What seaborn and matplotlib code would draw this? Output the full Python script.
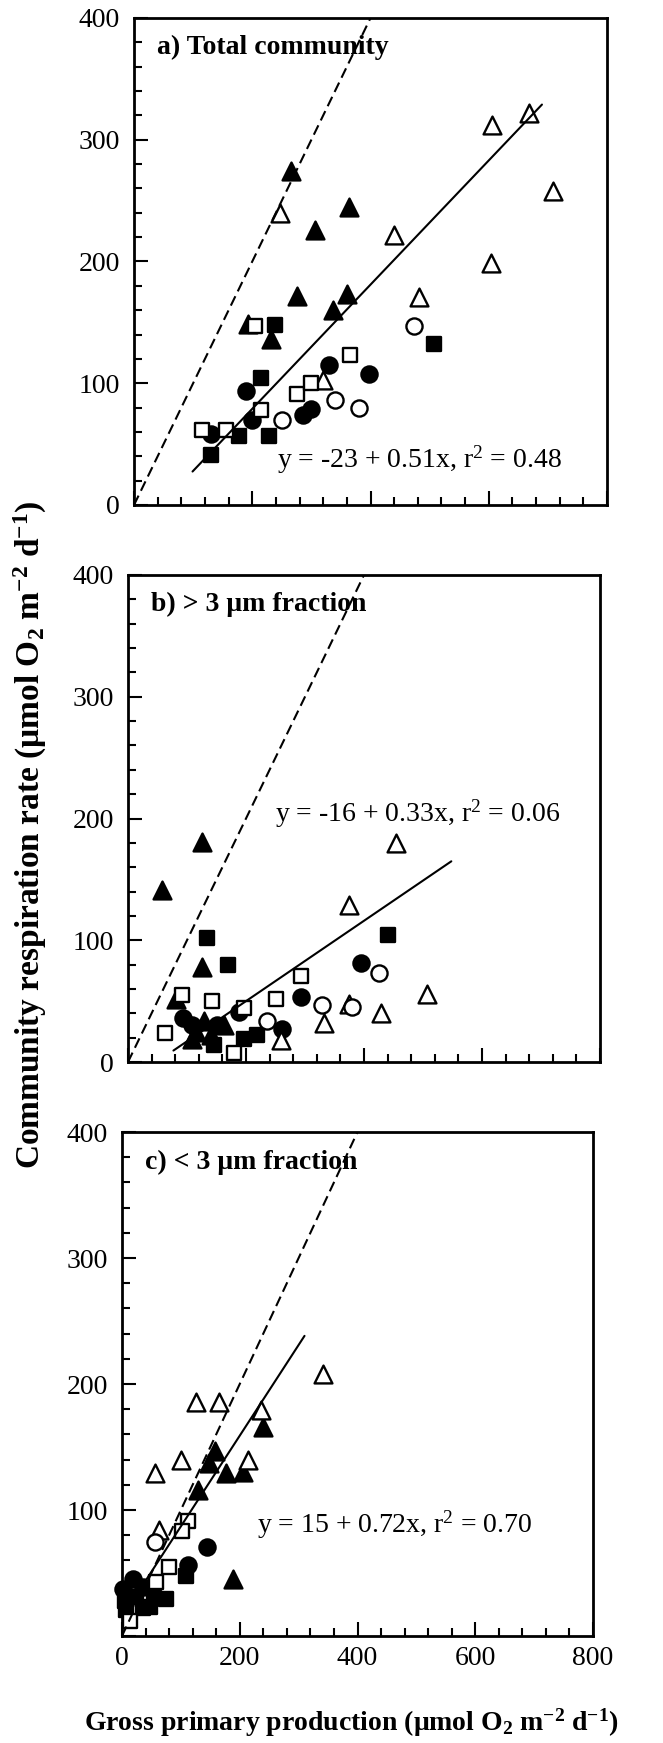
import matplotlib
matplotlib.use("Agg")
import matplotlib.pyplot as plt
from matplotlib.ticker import MultipleLocator, FixedLocator
import numpy as np
import pandas as pd
import seaborn as sns

# ---------------- data ----------------
# panel a) Total community
a_gpp = [265, 363, 306, 275, 360, 336, 192, 231,
         606, 668, 709, 247, 440, 604, 482, 320,
         130, 190, 199, 285, 300, 330, 397,
         250, 340, 381, 474,
         130, 177, 228, 214, 238, 508,
         115, 155, 214, 205, 275, 300, 366]
a_resp = [274, 245, 226, 172, 173, 160, 149, 136,
          312, 322, 258, 240, 222, 199, 171, 103,
          58, 94, 70, 74, 79, 115, 108,
          70, 86, 80, 147,
          41, 57, 57, 104, 148, 132,
          62, 62, 78, 147, 91, 100, 123]
a_sym = (["tri_f"] * 8 + ["tri_o"] * 8 + ["cir_f"] * 7 + ["cir_o"] * 4
         + ["sq_f"] * 6 + ["sq_o"] * 7)

# panel b) > 3 um fraction
b_gpp = [57, 125, 125, 82, 128, 162, 108, 115, 140,
         455, 375, 506, 375, 429, 332, 259,
         395, 293, 261, 188, 94, 108, 150,
         426, 328, 236, 380,
         134, 170, 440, 145, 196, 219,
         62, 91, 142, 196, 250, 293, 179]
b_resp = [141, 181, 78, 52, 34, 30, 19, 25, 22,
          180, 129, 56, 48, 40, 32, 18,
          81, 53, 27, 41, 36, 30, 30,
          73, 47, 34, 45,
          102, 80, 104, 14, 19, 22,
          24, 55, 50, 44, 52, 71, 7]
b_sym = (["tri_f"] * 9 + ["tri_o"] * 7 + ["cir_f"] * 7 + ["cir_o"] * 4
         + ["sq_f"] * 6 + ["sq_o"] * 7)

# panel c) < 3 um fraction
c_gpp = [240, 158, 147, 177, 206, 129, 188,
         342, 125, 164, 236, 214, 100, 56, 62,
         145, 112, 19, 2, 36, 10,
         56,
         108, 75, 47, 7, 24, 55, 35, 5,
         112, 102, 80, 58, 13]
c_resp = [166, 147, 137, 129, 130, 116, 45,
          208, 186, 186, 179, 140, 140, 129, 84,
          71, 56, 45, 37, 39, 30,
          75,
          48, 29, 23, 21, 31, 30, 22, 28,
          91, 83, 55, 43, 12]
c_sym = (["tri_f"] * 7 + ["tri_o"] * 8 + ["cir_f"] * 6 + ["cir_o"] * 1
         + ["sq_f"] * 8 + ["sq_o"] * 5)

# regression fits: intercept, slope, r2, x-range of the drawn line
intercepts = [-23, -16, 15]
slopes = [0.51, 0.33, 0.72]
r2_values = ["0.48", "0.06", "0.70"]
fit_ranges = [(99, 690), (77, 548), (40, 310)]
panel_titles = ["a) Total community", "b) > 3 \u03bcm fraction", "c) < 3 \u03bcm fraction"]

x_ticks = [0, 200, 400, 600, 800]
y_ticks = [0, 100, 200, 300, 400]

# ---------------- style ----------------
sns.set_theme(style="white")
plt.rcParams["font.family"] = ["Liberation Serif", "DejaVu Serif"]
plt.rcParams["mathtext.fontset"] = "custom"
plt.rcParams["mathtext.rm"] = "Liberation Serif"
plt.rcParams["mathtext.it"] = "Liberation Serif:italic"
plt.rcParams["mathtext.bf"] = "Liberation Serif:bold"
for k in ["text.color", "axes.labelcolor", "xtick.color", "ytick.color", "axes.edgecolor"]:
    plt.rcParams[k] = "black"

W, H = 663, 1743
fig = plt.figure(figsize=(W / 100, H / 100), dpi=100)
fig.patch.set_facecolor("white")

# axes boxes in pixels: left, right, top, bottom
boxes = [(134, 607, 18, 505), (128, 600, 575, 1062), (122, 593, 1132, 1636)]

marker_style = {
    "tri_f": ("^", "black"), "tri_o": ("^", "white"),
    "cir_f": ("o", "black"), "cir_o": ("o", "white"),
    "sq_f": ("s", "black"), "sq_o": ("s", "white"),
}
order = ["tri_f", "cir_f", "sq_f", "tri_o", "cir_o", "sq_o"]
sizes = {"^": 165, "o": 135, "s": 115}

panels = [(a_gpp, a_resp, a_sym), (b_gpp, b_resp, b_sym), (c_gpp, c_resp, c_sym)]

for i, ((gx, ry, sym), (l, r, t, b)) in enumerate(zip(panels, boxes)):
    ax = fig.add_axes([l / W, 1 - b / H, (r - l) / W, (b - t) / H])
    ax.set_facecolor("white")
    df = pd.DataFrame({"gpp": gx, "resp": ry, "sym": sym})

    # 1:1 line
    one = pd.DataFrame({"x": [0, 400], "y": [0, 400]})
    ax.plot(one["x"], one["y"], color="black", lw=1.5, dashes=(5, 2.6), zorder=4)
    # regression line
    x0, x1 = fit_ranges[i]
    fx = np.array([x0, x1])
    ax.plot(fx, intercepts[i] + slopes[i] * fx, color="black", lw=1.5, zorder=4)

    for key in order:
        sub = df[df["sym"] == key]
        if sub.empty:
            continue
        m, fc = marker_style[key]
        sns.scatterplot(data=sub, x="gpp", y="resp", marker=m, s=sizes[m],
                        color=fc, edgecolor="black", linewidth=1.7,
                        ax=ax, clip_on=False, zorder=3, legend=False)

    ax.set_xlim(0, 800)
    ax.set_ylim(0, 400)
    ax.xaxis.set_major_locator(FixedLocator(x_ticks))
    ax.yaxis.set_major_locator(FixedLocator(y_ticks))
    ax.xaxis.set_minor_locator(MultipleLocator(40))
    ax.yaxis.set_minor_locator(MultipleLocator(20))
    ax.tick_params(which="both", direction="in", top=False, right=False,
                   left=True, bottom=True, color="black", width=1.5)
    ax.tick_params(which="major", length=10, labelsize=20, labelcolor="black")
    ax.tick_params(which="minor", length=5.5)
    ax.tick_params(axis="y", which="major", pad=10)
    ax.tick_params(axis="x", which="major", pad=7)
    ylabels = [str(v) for v in y_ticks]
    if i == 2:
        ylabels[0] = ""
        ax.set_xticklabels([str(v) for v in x_ticks])
    else:
        ax.set_xticklabels([])
    ax.set_yticklabels(ylabels)
    ax.set_xlabel("")
    ax.set_ylabel("")
    for sp in ax.spines.values():
        sp.set_visible(True)
        sp.set_color("black")
        sp.set_linewidth(2.0)

    # panel title
    ax.text(0.048, 0.94, panel_titles[i], transform=ax.transAxes, fontsize=20,
            fontweight="bold", ha="left", va="center", zorder=5, color="black")
    # equation
    eq = "y = %d + %.2fx, r$^{\\mathrm{2}}$ = %s" % (intercepts[i], slopes[i], r2_values[i])
    eq_pos = [(242, 37), (249, 204), (229, 88)][i]
    ax.text(eq_pos[0], eq_pos[1], eq, fontsize=20, ha="left", va="center",
            zorder=5, color="black")

fig.text(30 / W, 1 - 835 / H,
         "Community respiration rate (\u03bcmol O$_\\mathbf{2}$ m$^{\\mathbf{-2}}$ d$^{\\mathbf{-1}}$)",
         rotation=90, fontsize=24, fontweight="bold", ha="center", va="center",
         color="black")
fig.text(351 / W, 1 - 1723 / H,
         "Gross primary production (\u03bcmol O$_\\mathbf{2}$ m$^{\\mathbf{-2}}$ d$^{\\mathbf{-1}}$)",
         fontsize=20, fontweight="bold", ha="center", va="center", color="black")

fig.savefig("out.png", dpi=100, facecolor="white")
